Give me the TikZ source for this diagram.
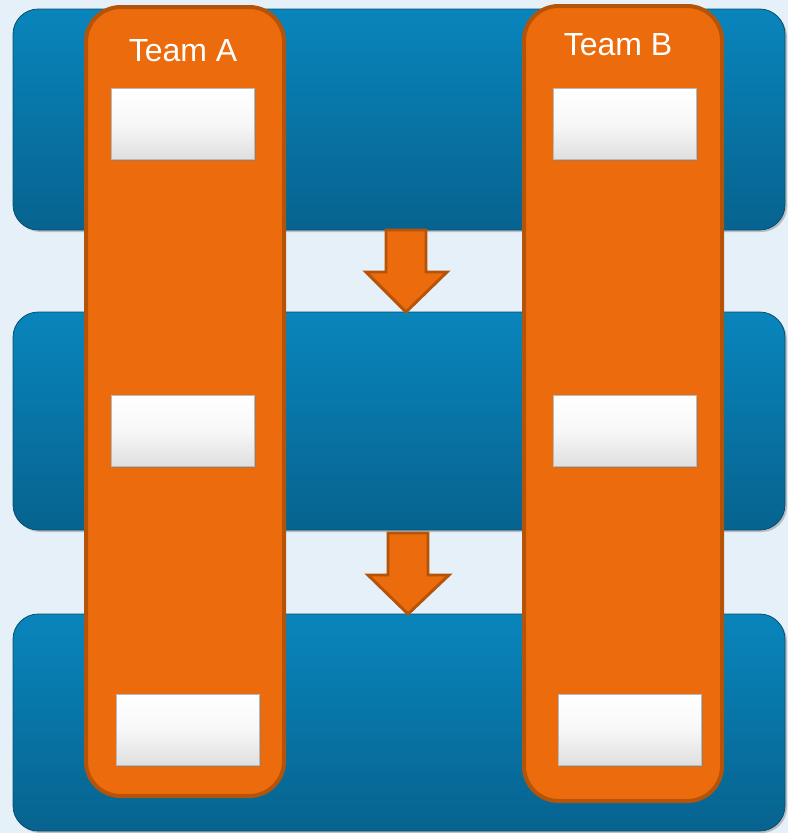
\documentclass[tikz,border=0pt]{standalone}
\usepackage{fontspec}
\setmainfont{Liberation Sans}
\usepackage{xcolor}
\definecolor{paleback}{RGB}{230, 240, 248}
\definecolor{bandtop}{RGB}{9, 133, 188}
\definecolor{bandbot}{RGB}{7, 99, 143}
\definecolor{teamorange}{RGB}{236, 107, 12}
\definecolor{teamedge}{RGB}{181, 84, 8}
\usetikzlibrary{shadows, positioning}

\tikzset{
  band/.style={rounded corners=19pt, top color=bandtop, bottom color=bandbot,
    draw=bandbot!80!black, line width=0.6pt,
    drop shadow={shadow xshift=1.5pt, shadow yshift=-1.5pt, opacity=0.45}},
  team/.style={rounded corners=26pt, fill=teamorange, draw=teamedge, line width=3pt},
  slot/.style={draw=gray!55, line width=0.5pt, top color=white, bottom color=gray!25,
    middle color=white!94!gray,
    minimum width=107pt, minimum height=53pt, inner sep=0pt,
    drop shadow={shadow xshift=1.2pt, shadow yshift=-1.5pt, opacity=0.5}},
  flow/.style={fill=teamorange, draw=teamedge, line width=2.2pt, line join=miter},
  teamlabel/.style={text=white, font=\fontsize{24}{28}\selectfont}
}

\begin{document}
\begin{tikzpicture}[x=0.75pt, y=-0.75pt]
    \fill[paleback] (0,0) rectangle (788,833);
    \useasboundingbox (0,0) rectangle (788,833);
    % stages
    \path[band] (13,9) rectangle (785,230);
    \path[band] (13,312) rectangle (785,530);
    \path[band] (13,614) rectangle (785,831);
    % flow arrows
    \draw[flow] (386,230) -- (426,230) -- (426,272) -- (447,272) -- (406,312)
      -- (366,272) -- (386,272) -- cycle;
    \draw[flow] (388,533) -- (428,533) -- (428,575) -- (449,575) -- (408,614)
      -- (368,575) -- (388,575) -- cycle;
    % teams
    \draw[team] (86,7) rectangle (284,796);
    \draw[team] (524,6) rectangle (722,801);
    \node[teamlabel] (labelA) at (183,51) {Team A};
    \node[teamlabel] (labelB) at (618,45) {Team B};
    % slots
    \node[slot] (a1) at (183,124) {};
    \node[slot] (a2) at (183,431) {};
    \node[slot] (a3) at (188,730) {};
    \node[slot] (b1) at (625,124) {};
    \node[slot] (b2) at (625,431) {};
    \node[slot] (b3) at (630,730) {};
\end{tikzpicture}
\end{document}
